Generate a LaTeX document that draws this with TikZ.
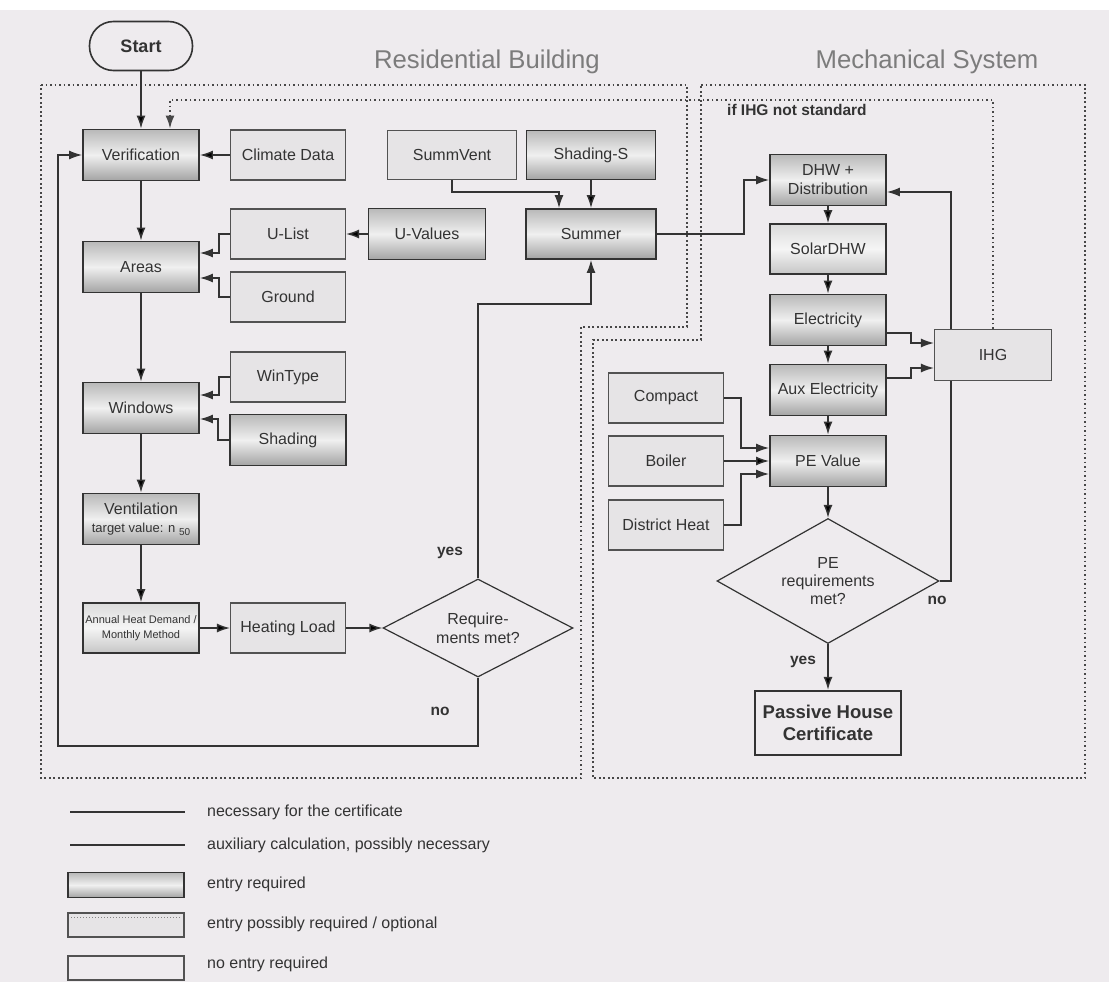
\documentclass[tikz,border=0pt]{standalone}
\usepackage{fontspec}
\setmainfont{Liberation Sans}
\usetikzlibrary{arrows.meta,shapes.geometric}
\definecolor{paper}{HTML}{EEEBEE}
\definecolor{ink}{HTML}{333333}
\definecolor{pale}{HTML}{E6E4E6}
\definecolor{headgray}{HTML}{7C7C7C}

\begin{document}
\begin{tikzpicture}[x=1pt,y=-1pt,
  every node/.style={font=\fontsize{16}{19}\selectfont,text=ink,align=center,inner sep=0pt},
  startbox/.style={rectangle,rounded corners=24pt,draw=ink,line width=1.6pt,fill=paper,
    minimum width=103pt,minimum height=49pt,font=\bfseries\fontsize{18}{21}\selectfont},
  needbox/.style={rectangle,draw=ink,line width=1.8pt,minimum width=116pt,minimum height=51pt,
    top color=gray!55,bottom color=gray!72,middle color=gray!12},
  optbox/.style={rectangle,draw=ink!85,line width=1.1pt,fill=pale,minimum width=115pt,minimum height=50pt},
  halfbox/.style={rectangle,draw=ink,line width=1.6pt,minimum width=116pt,minimum height=50pt,
    top color=gray!28,bottom color=gray!45,middle color=gray!8},
  query/.style={diamond,draw=ink,line width=1.2pt,fill=paper},
  conn/.style={draw=ink,line width=1.4pt,-{Latex[length=13pt,width=9pt]}},
  plain/.style={draw=ink,line width=1.4pt},
  zone/.style={draw=ink!90,line width=1.8pt,dash pattern=on 1.8pt off 2.7pt},
  lbl/.style={font=\bfseries\fontsize{15.5}{18}\selectfont}]

  \fill[white] (0,0) rectangle (1109,982);
  \fill[paper] (0,10) rectangle (1109,982);
  \useasboundingbox (0,0) rectangle (1109,982);

  % zones
  \draw[zone] (41,85) -- (687,85) -- (687,327) -- (581,327) -- (581,778) -- (41,778) -- cycle;
  \draw[zone] (701,85) -- (1085,85) -- (1085,778) -- (593,778) -- (593,340) -- (701,340) -- cycle;
  \node[font=\fontsize{25.7}{28}\selectfont,text=headgray] (restitle) at (487,62) {Residential Building};
  \node[font=\fontsize{25.7}{28}\selectfont,text=headgray] (mechtitle) at (927,62) {Mechanical System};
  \node[lbl,anchor=west] (ihgnote) at (727,110) {if IHG not standard};

  % residential building
  \node[startbox] (start) at (141,46) {Start};
  \node[needbox] (verif) at (141,155) {Verification};
  \node[optbox] (climate) at (288,155) {Climate Data};
  \node[optbox,minimum width=129pt,minimum height=49pt] (summvent) at (452,155) {SummVent};
  \node[needbox,minimum width=129pt,minimum height=49pt] (shadings) at (591,155) {Shading-S};
  \node[needbox,minimum width=117pt] (uvalues) at (427,234) {U-Values};
  \node[optbox] (ulist) at (288,234) {U-List};
  \node[needbox,minimum width=130pt,minimum height=50pt] (summer) at (591,234) {Summer};
  \node[needbox] (areas) at (141,267) {Areas};
  \node[optbox] (ground) at (288,297) {Ground};
  \node[needbox] (windows) at (141,408) {Windows};
  \node[optbox] (wintype) at (288,377) {WinType};
  \node[needbox] (shading) at (288,440) {Shading};
  \node[needbox] (vent) at (141,519) {Ventilation\\[-1pt]{\fontsize{13}{15}\selectfont target value: n \raisebox{-3pt}{\fontsize{10}{12}\selectfont 50}}};
  \node[halfbox,font=\fontsize{11}{15}\selectfont] (annual) at (141,628) {Annual Heat Demand /\\Monthly Method};
  \node[optbox] (heatload) at (288,628) {Heating Load};
  \node[query,minimum width=190pt,minimum height=98pt,aspect=1.94] (req) at (478,628) {Require-\\ments met?};
  \node[lbl] (reqyes) at (450,553) {yes};
  \node[lbl] (reqno) at (440,711) {no};

  % mechanical system
  \node[needbox] (dhw) at (828,180) {DHW +\\Distribution};
  \node[halfbox] (solar) at (828,249) {SolarDHW};
  \node[needbox] (elec) at (828,320) {Electricity};
  \node[needbox] (aux) at (828,390) {Aux Electricity};
  \node[needbox] (pe) at (828,461) {PE Value};
  \node[optbox,minimum width=117pt,minimum height=51pt] (ihg) at (993,355) {IHG};
  \node[optbox] (compact) at (666,398) {Compact};
  \node[optbox] (boiler) at (666,461) {Boiler};
  \node[optbox] (district) at (666,525) {District Heat};
  \node[query,minimum width=222pt,minimum height=125pt,aspect=1.78,font=\fontsize{16}{18}\selectfont] (pereq) at (828,581) {PE\\requirements\\met?};
  \node[lbl] (peno) at (937,600) {no};
  \node[lbl] (peyes) at (803,662) {yes};
  \node[rectangle,draw=ink,line width=2.2pt,fill=paper,minimum width=146pt,minimum height=64pt,
    font=\bfseries\fontsize{18.5}{22}\selectfont] (phc) at (828,723) {Passive House\\Certificate};

  \path[conn] (start) edge (verif)
    (climate) edge (verif)
    (verif) edge (areas)
    (uvalues) edge (ulist)
    (areas) edge (windows)
    (windows) edge (vent)
    (vent) edge (annual)
    (annual) edge (heatload)
    (heatload) edge (req)
    (shadings) edge (summer)
    (dhw) edge (solar)
    (solar) edge (elec)
    (elec) edge (aux)
    (aux) edge (pe)
    (boiler) edge (pe)
    (pe) edge (pereq)
    (pereq) edge (phc);

  \draw[conn] (ulist.west) -- ++(-11,0) |- ([yshift=14pt]areas.east);
  \draw[conn] (ground.west) -- ++(-11,0) |- ([yshift=-11pt]areas.east);
  \draw[conn] (wintype.west) -- ++(-11,0) |- ([yshift=13pt]windows.east);
  \draw[conn] (shading.west) -- ++(-11,0) |- ([yshift=-11pt]windows.east);
  \draw[conn] (summvent.south) -- ++(0,12) -| ([xshift=-32pt]summer.north);
  \draw[conn] (req.north) -- (req.north |- 0,304) -| (summer.south);
  \coordinate (loop) at (58,746);
  \draw[conn] (req.south) |- (loop) |- (verif.west);
  \draw[conn] (summer.east) -- ++(87,0) |- (dhw.west);
  \draw[conn] ([yshift=-13pt]elec.east) -- ++(24,0) |- ([yshift=12pt]ihg.west);
  \draw[conn] ([yshift=12pt]aux.east) -- ++(24,0) |- ([yshift=-13pt]ihg.west);
  \draw[conn] (compact.east) -- ++(17,0) |- ([yshift=13pt]pe.west);
  \draw[conn] (district.east) -- ++(17,0) |- ([yshift=-13pt]pe.west);
  \draw[plain] (pereq.east) -| ([xshift=-42pt]ihg.south);
  \draw[conn] ([xshift=-42pt]ihg.north) |- ([yshift=-12pt]dhw.east);
  \draw[zone,-{Latex[length=13pt,width=9pt]}] (ihg.north) -- (ihg.north |- 0,100) -| ([xshift=29pt]verif.north);

  % legend
  \coordinate (thickA) at (70,812);
  \coordinate (thickB) at (185,812);
  \coordinate (thinA) at (70,845);
  \coordinate (thinB) at (185,845);
  \draw[draw=ink,line width=2.4pt] (thickA) -- (thickB);
  \draw[draw=ink,line width=1.2pt] (thinA) -- (thinB);
  \node[needbox,minimum width=116pt,minimum height=25pt] (legneed) at (126,885) {};
  \node[optbox,minimum width=116pt,minimum height=24pt] (legopt) at (126,925) {};
  \draw[draw=ink!60,line width=1pt,dash pattern=on 1pt off 2pt] ([xshift=4pt,yshift=-5pt]legopt.north west) -- ([xshift=-4pt,yshift=-5pt]legopt.north east);
  \node[rectangle,draw=ink!85,line width=1.1pt,fill=paper,minimum width=116pt,minimum height=24pt] (legnone) at (126,968) {};
  \node[anchor=west] (legthick) at (207,812) {necessary for the certificate};
  \node[anchor=west] (legthin) at (207,845) {auxiliary calculation, possibly necessary};
  \node[anchor=west] (legneedtext) at (207,884) {entry required};
  \node[anchor=west] (legopttext) at (207,924) {entry possibly required / optional};
  \node[anchor=west] (legnonetext) at (207,964) {no entry required};
\end{tikzpicture}
\end{document}
